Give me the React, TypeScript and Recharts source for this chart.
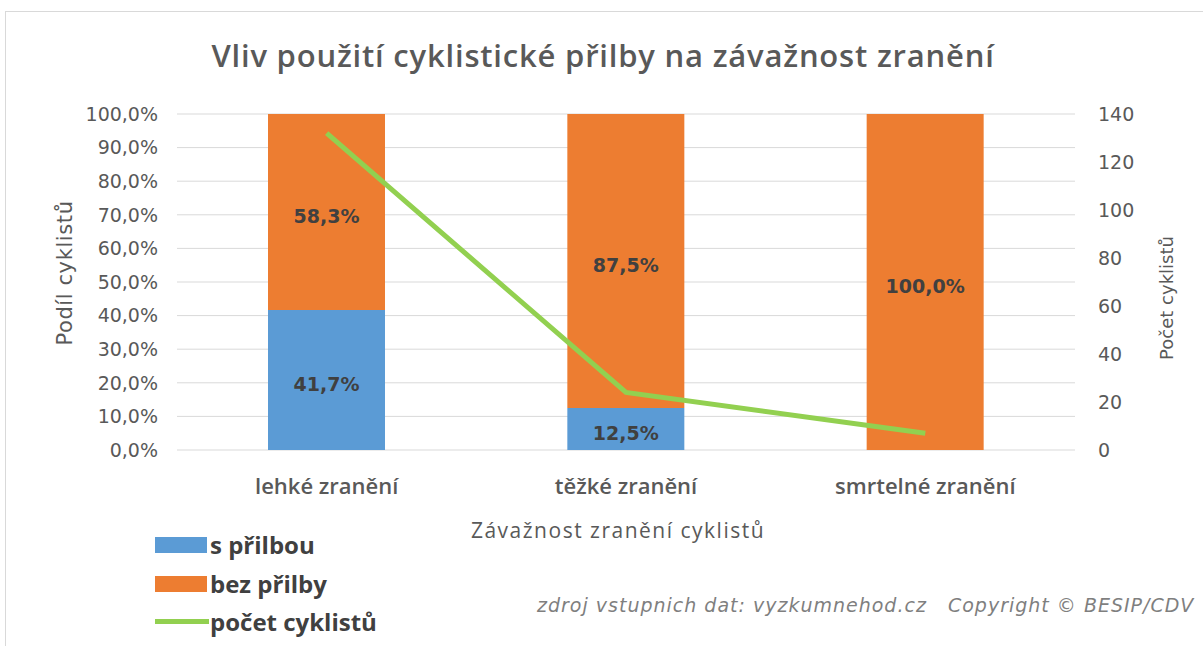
import React from 'react';
import { ComposedChart, Bar, Line, XAxis, YAxis, CartesianGrid, LabelList } from 'recharts';

const categories = ['lehké zranění', 'těžké zranění', 'smrtelné zranění'];
const sPrilbou = [41.7, 12.5, 0];
const bezPrilby = [58.3, 87.5, 100];
const pocetCyklistu = [132, 24, 7];
const leftTicks = [0, 10, 20, 30, 40, 50, 60, 70, 80, 90, 100];
const rightTicks = [0, 20, 40, 60, 80, 100, 120, 140];

const seriesNames = { s: 's přilbou', bez: 'bez přilby', pocet: 'počet cyklistů' };
const colors = { s: '#5B9BD5', bez: '#ED7D31', pocet: '#92D050' };

const data = categories.map((c, i) => ({
  name: c,
  s: sPrilbou[i],
  bez: bezPrilby[i],
  pocet: pocetCyklistu[i],
}));

const pct = (v: number) => v.toFixed(1).replace('.', ',') + '%';
const labelFmt = (v: any) => (Number(v) > 0 ? pct(Number(v)) : '');

const tickFont = { fontFamily: 'DejaVu Sans', fontSize: 19, fill: '#595959' };

export default function App() {
  const legendItems = [
    { key: 's', type: 'rect' },
    { key: 'bez', type: 'rect' },
    { key: 'pocet', type: 'line' },
  ] as const;
  return (
    <div style={{ position: 'absolute', left: 0, top: 0, width: 1203, height: 646, overflow: 'hidden', background: '#fff' }}>
      <div style={{ position: 'absolute', left: 5, top: 11, width: 1300, height: 800, border: '1px solid #d9d9d9' }} />
      <div style={{ position: 'absolute', left: 0, top: 0 }}>
        <ComposedChart width={1203} height={646} data={data} margin={{ top: 114, right: 68, bottom: 146, left: 97 }} barCategoryGap="30%">
          <CartesianGrid yAxisId="left" vertical={false} stroke="#d9d9d9" strokeWidth={1} />
          <XAxis dataKey="name" axisLine={false} tickLine={false} tickSize={0} tickMargin={28} height={50}
            tick={{ fontFamily: 'Open Sans', fontSize: 22, fontWeight: 600, fill: '#595959' }} />
          <YAxis yAxisId="left" orientation="left" width={80} domain={[0, 100]} ticks={leftTicks} tickFormatter={pct}
            axisLine={false} tickLine={false} tickSize={0} tickMargin={19} tick={tickFont} />
          <YAxis yAxisId="right" orientation="right" width={60} domain={[0, 140]} ticks={rightTicks}
            axisLine={false} tickLine={false} tickSize={0} tickMargin={23} tick={tickFont} />
          <Bar yAxisId="left" dataKey="s" stackId="a" fill={colors.s} barSize={117} isAnimationActive={false}>
            <LabelList dataKey="s" position="center" formatter={labelFmt} dy={4}
              style={{ fontFamily: 'DejaVu Sans', fontSize: 19, fontWeight: 'bold', fill: '#404040' }} />
          </Bar>
          <Bar yAxisId="left" dataKey="bez" stackId="a" fill={colors.bez} barSize={117} isAnimationActive={false}>
            <LabelList dataKey="bez" position="center" formatter={labelFmt} dy={4}
              style={{ fontFamily: 'DejaVu Sans', fontSize: 19, fontWeight: 'bold', fill: '#404040' }} />
          </Bar>
          <Line yAxisId="right" dataKey="pocet" stroke={colors.pocet} strokeWidth={5} dot={false} type="linear" isAnimationActive={false} />
        </ComposedChart>
      </div>
      <div style={{ position: 'absolute', left: 603, top: 55, width: 0, height: 0 }}>
        <div style={{ position: 'absolute', transform: 'translate(-50%, -50%)', whiteSpace: 'nowrap', fontFamily: 'Open Sans', fontWeight: 600, fontSize: 31, letterSpacing: 0.8, color: '#595959' }}>
          Vliv použití cyklistické přilby na závažnost zranění
        </div>
      </div>
      <div style={{ position: 'absolute', left: 65, top: 273, width: 0, height: 0 }}>
        <div style={{ position: 'absolute', transform: 'translate(-50%, -50%) rotate(-90deg)', whiteSpace: 'nowrap', fontFamily: 'DejaVu Sans', fontSize: 21, letterSpacing: 0.6, color: '#595959' }}>
          Podíl cyklistů
        </div>
      </div>
      <div style={{ position: 'absolute', left: 1166, top: 298, width: 0, height: 0 }}>
        <div style={{ position: 'absolute', transform: 'translate(-50%, -50%) rotate(-90deg)', whiteSpace: 'nowrap', fontFamily: 'DejaVu Sans', fontSize: 18, color: '#595959' }}>
          Počet cyklistů
        </div>
      </div>
      <div style={{ position: 'absolute', left: 618, top: 530, width: 0, height: 0 }}>
        <div style={{ position: 'absolute', transform: 'translate(-50%, -50%)', whiteSpace: 'nowrap', fontFamily: 'Open Sans', fontSize: 21, letterSpacing: 1.5, color: '#595959' }}>
          Závažnost zranění cyklistů
        </div>
      </div>
      {legendItems.map((it, i) => (
        <div key={it.key} style={{ position: 'absolute', left: 155, top: 545 + i * 38.5, height: 0 }}>
          {it.type === 'rect' ? (
            <div style={{ position: 'absolute', left: 0, top: -8, width: 52, height: 16, background: colors[it.key] }} />
          ) : (
            <div style={{ position: 'absolute', left: 0, top: -3, width: 54, height: 5, background: colors[it.key] }} />
          )}
          <div style={{ position: 'absolute', left: 55, top: 0, transform: 'translateY(-50%)', whiteSpace: 'nowrap', fontFamily: 'Open Sans', fontWeight: 700, fontSize: 24, color: '#404040', lineHeight: '30px' }}>
            {seriesNames[it.key]}
          </div>
        </div>
      ))}
      <div style={{ position: 'absolute', left: 537, top: 605, transform: 'translateY(-50%)', whiteSpace: 'pre', fontFamily: 'DejaVu Sans', fontStyle: 'italic', fontSize: 19, letterSpacing: 1, color: '#7f7f7f' }}>
        {'zdroj vstupnich dat: vyzkumnehod.cz   Copyright © BESIP/CDV'}
      </div>
    </div>
  );
}
